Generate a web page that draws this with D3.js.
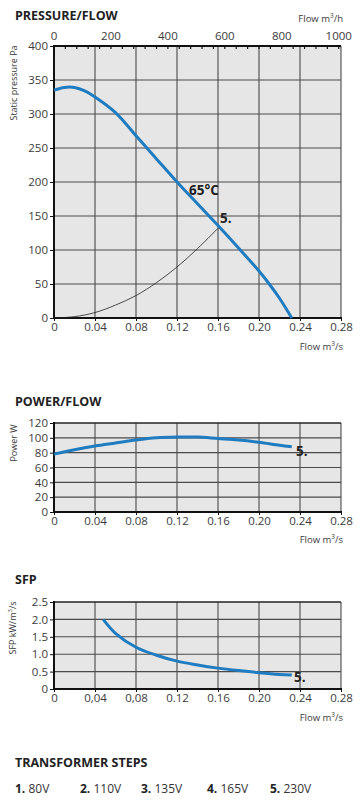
<!DOCTYPE html>
<html>
<head>
<meta charset="utf-8">
<script src="https://cdn.jsdelivr.net/npm/d3@7"></script>
<style>
  body { margin: 0; background: #fff; }
  svg { display: block; font-family: "Open Sans", "Noto Sans", sans-serif; }
</style>
</head>
<body>
<svg id="chart" width="362" height="809"></svg>
<script>
// flow ticks shared by all three charts (m3/s)
const flowTicks = [0, 0.04, 0.08, 0.12, 0.16, 0.20, 0.24, 0.28];
const flowHourTicks = [0, 200, 400, 600, 800, 1000];

// pressure/flow curve at 65°C, step 5
const pressureFlow = [0, 0.01, 0.02, 0.03, 0.04, 0.06, 0.08, 0.10, 0.12, 0.14, 0.16, 0.18, 0.20, 0.21, 0.22, 0.232];
const pressureVal = [335, 339, 339, 334, 325, 302, 268, 234, 200, 168, 136, 103, 69, 50, 29, 0];

// thin system curve
const systemFlow = [0, 0.02, 0.04, 0.06, 0.08, 0.10, 0.12, 0.14, 0.162];
const systemVal = [0, 2, 8, 19, 33, 52, 75, 102, 135];

// power/flow
const powerFlow = [0, 0.02, 0.04, 0.06, 0.08, 0.10, 0.12, 0.14, 0.16, 0.18, 0.20, 0.22, 0.232];
const powerVal = [78, 84, 89, 93, 97, 100, 101, 101, 99, 97, 94, 90, 88];

// SFP
const sfpFlow = [0.048, 0.06, 0.08, 0.10, 0.12, 0.14, 0.16, 0.18, 0.20, 0.22, 0.232];
const sfpVal = [2.0, 1.6, 1.2, 0.97, 0.8, 0.69, 0.6, 0.53, 0.47, 0.42, 0.4];

const steps = [
  { n: '1.', v: '80V', x: 15 },
  { n: '2.', v: '110V', x: 80 },
  { n: '3.', v: '135V', x: 141 },
  { n: '4.', v: '165V', x: 207 },
  { n: '5.', v: '230V', x: 270 }
];

const svg = d3.select('#chart');
const left = 54, right = 341;
const blue = '#1f7cc0', gridColor = '#4a4a4a', textColor = '#3a3a3a';

const x = d3.scaleLinear().domain([0, 0.28]).range([left, right]);

function title(text, y) {
  svg.append('text').attr('x', 15).attr('y', y)
    .attr('font-size', 12.5).attr('font-weight', 700).attr('fill', '#222')
    .text(text);
}

function flowLabel(y, unit) {
  const t = svg.append('text').attr('x', 343).attr('y', y)
    .attr('text-anchor', 'end').attr('font-size', 9.5).attr('fill', textColor);
  t.append('tspan').text('Flow m');
  t.append('tspan').attr('font-size', 6.5).attr('dy', -4).text('3');
  t.append('tspan').attr('dy', 4).text(unit);
}

function panel(opts) {
  const y = d3.scaleLinear().domain(opts.domain).range([opts.bottom, opts.top]);
  const g = svg.append('g');

  g.append('rect').attr('x', left).attr('y', opts.top)
    .attr('width', right - left).attr('height', opts.bottom - opts.top)
    .attr('fill', '#e6e6e6');

  // grid
  g.selectAll('.vg').data(flowTicks.slice(1)).join('line')
    .attr('x1', d => x(d)).attr('x2', d => x(d))
    .attr('y1', opts.top).attr('y2', opts.bottom)
    .attr('stroke', gridColor).attr('stroke-width', 1.1);
  g.selectAll('.hg').data(opts.ticks.slice(1)).join('line')
    .attr('x1', left).attr('x2', right)
    .attr('y1', d => y(d)).attr('y2', d => y(d))
    .attr('stroke', gridColor).attr('stroke-width', 1.1);

  // frame
  g.append('line').attr('x1', left).attr('x2', left).attr('y1', opts.top - 1).attr('y2', opts.bottom + 1)
    .attr('stroke', '#111').attr('stroke-width', 2);
  g.append('line').attr('x1', left - 1).attr('x2', right + 1).attr('y1', opts.bottom).attr('y2', opts.bottom)
    .attr('stroke', '#111').attr('stroke-width', 2);
  g.append('line').attr('x1', left).attr('x2', right).attr('y1', opts.top).attr('y2', opts.top)
    .attr('stroke', '#111').attr('stroke-width', opts.topAxis ? 2 : 1.2);

  // y axis
  const ya = g.append('g').attr('transform', `translate(${left},0)`)
    .call(d3.axisLeft(y).tickValues(opts.ticks).tickSize(4).tickPadding(2).tickFormat(opts.yFormat));
  ya.select('.domain').remove();
  ya.selectAll('line').attr('stroke', '#111');
  ya.selectAll('text').attr('font-size', opts.tickFont).attr('fill', textColor)
    .attr('font-family', '"Open Sans", sans-serif');

  // x axis
  const xa = g.append('g').attr('transform', `translate(0,${opts.bottom})`)
    .call(d3.axisBottom(x).tickValues(flowTicks).tickSize(3).tickPadding(2).tickFormat(opts.xFormat));
  xa.select('.domain').remove();
  xa.selectAll('line').attr('stroke', '#111');
  xa.selectAll('text').attr('font-size', opts.tickFont).attr('fill', textColor)
    .attr('font-family', '"Open Sans", sans-serif');

  // rotated y title
  const yt = svg.append('text')
    .attr('transform', `translate(${opts.yTitleX},${opts.yTitleY}) rotate(-90)`)
    .attr('text-anchor', 'middle').attr('font-size', 9).attr('fill', textColor);
  opts.yTitle(yt);

  return y;
}

function curve(xs, ys, y, color, width) {
  const pts = xs.map((d, i) => [d, ys[i]]);
  svg.append('path').datum(pts)
    .attr('d', d3.line().x(d => x(d[0])).y(d => y(d[1])).curve(d3.curveCatmullRom.alpha(0.5)))
    .attr('fill', 'none').attr('stroke', color).attr('stroke-width', width)
    .attr('stroke-linecap', 'butt');
}

function label(text, px, py, size) {
  svg.append('text').attr('x', px).attr('y', py)
    .attr('font-size', size).attr('font-weight', 700).attr('fill', '#222').text(text);
}

/* ---- PRESSURE/FLOW ---- */
title('PRESSURE/FLOW', 20);
flowLabel(22, '/h');

const yP = panel({
  top: 46, bottom: 318, domain: [0, 400],
  ticks: [0, 50, 100, 150, 200, 250, 300, 350, 400],
  tickFont: 11.5, topAxis: true,
  yFormat: d => d, xFormat: d => d === 0 ? '0' : d3.format('.2f')(d),
  yTitleX: 17, yTitleY: 83,
  yTitle: t => t.text('Static pressure Pa')
});

// top m3/h axis
const xh = d3.scaleLinear().domain([0, 0.28 * 3600]).range([left, right]);
svg.append('g').selectAll('line').data(d3.range(0, 1001, 40)).join('line')
  .attr('x1', d => xh(d)).attr('x2', d => xh(d))
  .attr('y1', 46).attr('y2', 49)
  .attr('stroke', '#111').attr('stroke-width', 1.2);
svg.append('g').selectAll('text').data(flowHourTicks).join('text')
  .attr('x', d => xh(d)).attr('y', 40)
  .attr('text-anchor', 'middle').attr('font-size', 11.5).attr('fill', textColor)
  .text(d => d);

curve(systemFlow, systemVal, yP, '#222', 0.8);
curve(pressureFlow, pressureVal, yP, blue, 3);
label('65°C', 189, 195, 13.5);
label('5.', 220, 223, 13.5);
flowLabel(350, '/s');

/* ---- POWER/FLOW ---- */
title('POWER/FLOW', 406);
const yW = panel({
  top: 423, bottom: 512, domain: [0, 120],
  ticks: [0, 20, 40, 60, 80, 100, 120],
  tickFont: 11.5,
  yFormat: d => d, xFormat: d => d === 0 ? '0' : d3.format('.2f')(d),
  yTitleX: 17, yTitleY: 443,
  yTitle: t => t.text('Power W')
});
curve(powerFlow, powerVal, yW, blue, 3);
label('5.', 296, 456, 13.5);
flowLabel(543, '/s');

/* ---- SFP ---- */
title('SFP', 584);
const yS = panel({
  top: 602, bottom: 689, domain: [0, 2.5],
  ticks: [0, 0.5, 1.0, 1.5, 2.0, 2.5],
  tickFont: 11.5,
  yFormat: d => d === 0 ? '0' : d3.format('.1f')(d),
  xFormat: d => d === 0 ? '0' : (d < 0.1 ? d3.format('.2f')(d).replace('.', ',') : d3.format('.2f')(d)),
  yTitleX: 16, yTitleY: 628,
  yTitle: t => {
    t.append('tspan').text('SFP kW/m');
    t.append('tspan').attr('font-size', 6).attr('dy', -4).text('3');
    t.append('tspan').attr('dy', 4).text('/s');
  }
});
curve(sfpFlow, sfpVal, yS, blue, 3);
label('5.', 294, 682, 13.5);
flowLabel(721, '/s');

/* ---- TRANSFORMER STEPS ---- */
title('TRANSFORMER STEPS', 767);
const row = svg.append('g');
steps.forEach(s => {
  const t = row.append('text').attr('x', s.x).attr('y', 793)
    .attr('font-size', 12).attr('fill', '#222');
  t.append('tspan').attr('font-weight', 700).text(s.n);
  t.append('tspan').attr('fill', '#333').text(' ' + s.v);
});
</script>
</body>
</html>
